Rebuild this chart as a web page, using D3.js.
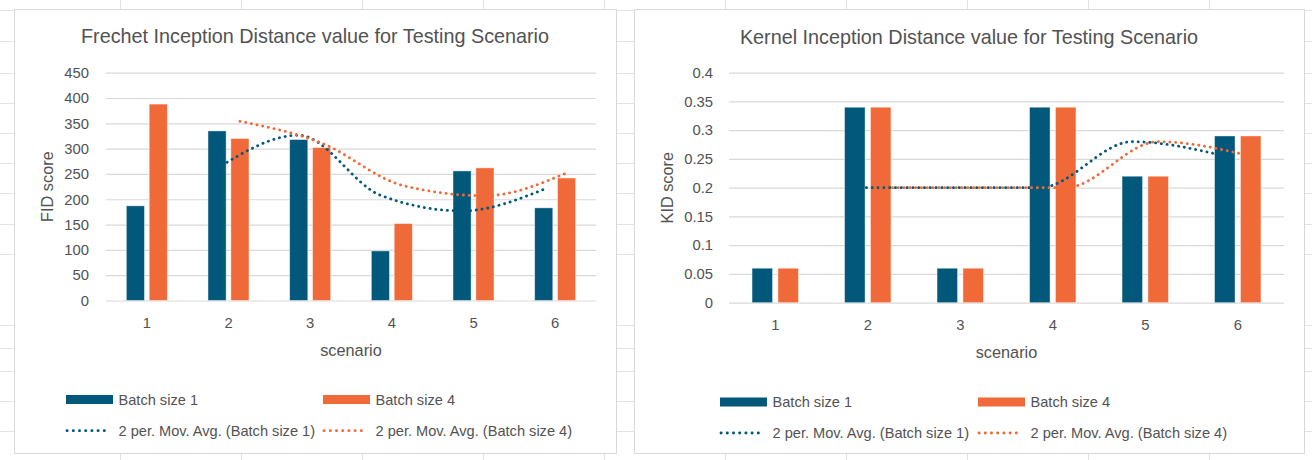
<!DOCTYPE html>
<html>
<head>
<meta charset="utf-8">
<script src="https://cdn.jsdelivr.net/npm/d3@7"></script>
<style>
  html, body { margin: 0; padding: 0; background: #ffffff; }
  svg { display: block; font-family: "Liberation Sans", Arial, sans-serif; }
</style>
</head>
<body>
<svg id="chart" width="1312" height="460"></svg>
<script>
// ---------------- data ----------------
const categories = ["1", "2", "3", "4", "5", "6"];

const fidBatch1 = [187, 335, 318, 98, 256, 183];
const fidBatch4 = [388, 320, 302, 152, 262, 242];
const fidMovAvg1 = [null, 261, 326.5, 208, 177, 219.5];
const fidMovAvg4 = [null, 354, 311, 227, 207, 252];
const fidTicks = [0, 50, 100, 150, 200, 250, 300, 350, 400, 450];

const kidBatch1 = [0.06, 0.34, 0.06, 0.34, 0.22, 0.29];
const kidBatch4 = [0.06, 0.34, 0.06, 0.34, 0.22, 0.29];
const kidMovAvg1 = [null, 0.2, 0.2, 0.2, 0.28, 0.255];
const kidMovAvg4 = [null, 0.2, 0.2, 0.2, 0.28, 0.255];
const kidTicks = [0, 0.05, 0.1, 0.15, 0.2, 0.25, 0.3, 0.35, 0.4];

const seriesNames = ["Batch size 1", "Batch size 4",
  "2 per. Mov. Avg. (Batch size 1)", "2 per. Mov. Avg. (Batch size 4)"];
const fidTitle = "Frechet Inception Distance value for Testing Scenario";
const kidTitle = "Kernel Inception Distance value for Testing Scenario";
const fidYLabel = "FID score";
const kidYLabel = "KID score";
const xLabel = "scenario";

// ---------------- style ----------------
const BLUE = "#02587a";
const ORANGE = "#ef6a38";
const TEXT = "#525252";
const GRID = "#d9d9d9";
const SHEET = "#e2e2e2";
const FONT = "Liberation Sans, Arial, sans-serif";

const svg = d3.select("#chart");
svg.append("rect").attr("width", 1312).attr("height", 460).attr("fill", "#fff");

// spreadsheet cells behind the charts
const sheetCols = d3.range(10).map(i => 120 + 121 * i);
const sheetRows = [10, 41, 73, 103, 133, 163, 193, 224, 254, 325, 348, 371, 401, 431];
const sheet = svg.append("g");
sheet.selectAll("line.c").data(sheetCols).join("line")
  .attr("x1", d => d + 0.5).attr("x2", d => d + 0.5).attr("y1", 0).attr("y2", 460)
  .attr("stroke", SHEET).attr("stroke-width", 1);
sheet.selectAll("line.r").data(sheetRows).join("line")
  .attr("x1", 0).attr("x2", 1312).attr("y1", d => d + 0.5).attr("y2", d => d + 0.5)
  .attr("stroke", SHEET).attr("stroke-width", 1);

function drawChart(o) {
  const g = svg.append("g");
  // chart frame
  g.append("rect")
    .attr("x", o.frame[0] + 0.5).attr("y", o.frame[1] + 0.5)
    .attr("width", o.frame[2]).attr("height", o.frame[3])
    .attr("fill", "#fff").attr("stroke", GRID).attr("stroke-width", 1);

  // title
  g.append("text")
    .attr("x", o.frame[0] + o.frame[2] / 2).attr("y", o.titleY)
    .attr("text-anchor", "middle").attr("fill", TEXT)
    .attr("font-size", 19.8).text(o.title);

  const x = d3.scaleBand().domain(categories).range([o.x0, o.x1]).padding(0);
  const y = d3.scaleLinear().domain([0, o.yMax]).range([o.yBottom, o.yTop]);
  const band = x.bandwidth();
  const barW = band * 0.222;
  const gap = band * 0.058;
  const offs = [-(gap / 2 + barW), gap / 2];

  // gridlines + y tick labels
  const ya = g.append("g").attr("transform", `translate(${o.x0},0)`)
    .call(d3.axisLeft(y).tickValues(o.ticks).tickSize(-(o.x1 - o.x0))
      .tickPadding(o.tickPad).tickFormat(o.fmt));
  ya.select(".domain").remove();
  ya.selectAll(".tick line").attr("stroke", GRID).attr("stroke-width", 1.2);
  ya.selectAll(".tick text").attr("fill", TEXT).attr("font-size", 14.8)
    .attr("font-family", FONT);

  // x tick labels
  const xa = g.append("g").attr("transform", `translate(0,${o.yBottom})`)
    .call(d3.axisBottom(x).tickSize(0).tickPadding(o.xTickPad));
  xa.select(".domain").remove();
  xa.selectAll(".tick text").attr("fill", TEXT).attr("font-size", 14.8)
    .attr("font-family", FONT);

  // bars
  const series = [o.b1, o.b4];
  const colors = [BLUE, ORANGE];
  series.forEach((vals, s) => {
    g.append("g").selectAll("rect").data(vals).join("rect")
      .attr("x", (d, i) => x(categories[i]) + band / 2 + offs[s])
      .attr("width", barW)
      .attr("y", d => y(d))
      .attr("height", d => y(0) - y(d))
      .attr("fill", colors[s])
      .attr("stroke", "rgba(255,255,255,0.55)").attr("stroke-width", 0.8);
  });

  // moving average trendlines
  [o.ma1, o.ma4].forEach((vals, s) => {
    const line = d3.line()
      .defined(d => d != null)
      .x((d, i) => x(categories[i]) + band / 2 + offs[s] + barW / 2)
      .y(d => y(d))
      .curve(d3.curveMonotoneX);
    g.append("path").datum(vals).attr("d", line)
      .attr("fill", "none").attr("stroke", colors[s])
      .attr("stroke-width", 2.8).attr("stroke-linecap", "round")
      .attr("stroke-dasharray", "0.2 5.6");
  });

  // axis titles
  g.append("text")
    .attr("transform", `translate(${o.yLabelX},${(o.yTop + o.yBottom) / 2}) rotate(-90)`)
    .attr("text-anchor", "middle").attr("dy", "0.35em")
    .attr("fill", TEXT).attr("font-size", 16.3).text(o.yLabel);
  g.append("text")
    .attr("x", (o.x0 + o.x1) / 2).attr("y", o.xLabelY)
    .attr("text-anchor", "middle").attr("dy", "0.35em")
    .attr("fill", TEXT).attr("font-size", 16.3).text(xLabel);

  // legend (2 x 2)
  const items = seriesNames.map((n, i) => ({
    name: n, col: i % 2, row: Math.floor(i / 2), color: colors[i % 2], kind: i < 2 ? "bar" : "line"
  }));
  const lg = g.append("g");
  items.forEach(it => {
    const lx = o.legCols[it.col];
    const ly = o.legRows[it.row];
    if (it.kind === "bar") {
      lg.append("rect").attr("x", lx).attr("y", ly - 4.5).attr("width", 47).attr("height", 9)
        .attr("fill", it.color);
    } else {
      lg.append("line").attr("x1", lx + 1).attr("x2", lx + 44).attr("y1", ly).attr("y2", ly)
        .attr("stroke", it.color).attr("stroke-width", 2.8)
        .attr("stroke-linecap", "round").attr("stroke-dasharray", "0.2 6");
    }
    lg.append("text").attr("x", lx + 52.5).attr("y", ly).attr("dy", "0.35em")
      .attr("fill", TEXT).attr("font-size", 14.6).text(it.name);
  });
}

const fmtFid = d3.format("d");
const fmtKid = d => String(+d.toFixed(2));

drawChart({
  frame: [14, 9, 602, 444],
  title: fidTitle, titleY: 43,
  x0: 106, x1: 596, yTop: 72.7, yBottom: 300.5, yMax: 450,
  ticks: fidTicks, fmt: fmtFid, tickPad: 17, xTickPad: 17,
  b1: fidBatch1, b4: fidBatch4, ma1: fidMovAvg1, ma4: fidMovAvg4,
  yLabel: fidYLabel, yLabelX: 47, xLabelY: 350,
  legCols: [66, 323], legRows: [399.5, 430.7]
});

drawChart({
  frame: [634, 9, 670, 444],
  title: kidTitle, titleY: 44,
  x0: 729, x1: 1284, yTop: 72.7, yBottom: 302.7, yMax: 0.4,
  ticks: kidTicks, fmt: fmtKid, tickPad: 16, xTickPad: 17,
  b1: kidBatch1, b4: kidBatch4, ma1: kidMovAvg1, ma4: kidMovAvg4,
  yLabel: kidYLabel, yLabelX: 667, xLabelY: 352,
  legCols: [720, 978], legRows: [402, 433]
});
</script>
</body>
</html>
